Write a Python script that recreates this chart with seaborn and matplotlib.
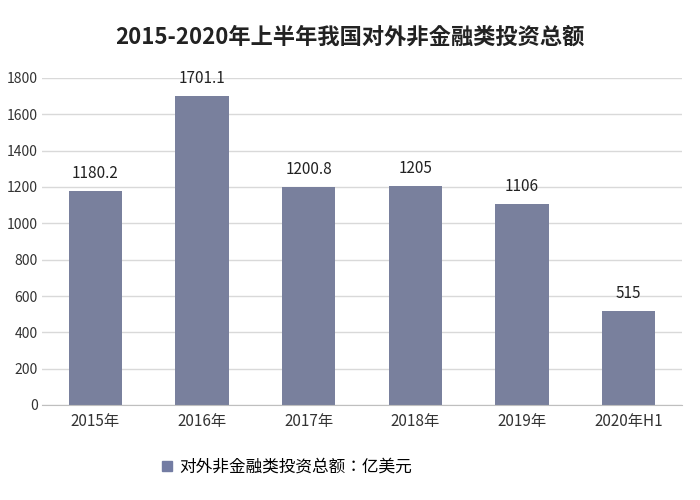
import matplotlib
matplotlib.use("Agg")
import matplotlib.pyplot as plt
from matplotlib import font_manager as fm
import seaborn as sns
import pandas as pd
from matplotlib.patches import Patch

categories = ["2015年", "2016年", "2017年", "2018年", "2019年", "2020年H1"]
values = [1180.2, 1701.1, 1200.8, 1205, 1106, 515]
labels = ["1180.2", "1701.1", "1200.8", "1205", "1106", "515"]
series = "对外非金融类投资总额：亿美元"

files = [f for f in fm.findSystemFonts() if "CJK" in f or "SC" in f.split("/")[-1]]
reg = None
bold = None
for f in sorted(files):
    base = f.split("/")[-1]
    if "Regular" in base and reg is None:
        reg = f
    if "Bold" in base and bold is None:
        bold = f
reg = reg or (files[0] if files else None)
bold = bold or reg
reg_prop = fm.FontProperties(fname=reg) if reg else fm.FontProperties(family="Noto Sans CJK SC")
bold_prop = fm.FontProperties(fname=bold) if bold else fm.FontProperties(family="Noto Sans CJK SC", weight="bold")
if reg:
    fm.fontManager.addfont(reg)
    plt.rcParams["font.family"] = [fm.FontProperties(fname=reg).get_name(), "DejaVu Sans"]

df = pd.DataFrame({"cat": categories, "val": values, "s": series})

fig = plt.figure(figsize=(7, 5), dpi=100)
ax = fig.add_axes([42/700, 95/500, 640/700, 327/500])
color = "#737ca3"
sns.barplot(data=df, x="cat", y="val", hue="s", palette=[color], width=0.5, ax=ax, legend=False)
ax.set_ylim(0, 1800)
ax.set_yticks(range(0, 1801, 200))
ax.set_xlim(-0.5, 5.5)
ax.grid(axis="y", color="#d9d9d9", linewidth=1)
ax.set_axisbelow(True)
for s in ["top", "right", "left"]:
    ax.spines[s].set_visible(False)
ax.spines["bottom"].set_color("#bfbfbf")
ax.tick_params(axis="y", length=0, colors="#333333", pad=3)
ax.tick_params(axis="x", length=0, colors="#333333", pad=6)
for t in ax.get_yticklabels():
    t.set_fontproperties(reg_prop); t.set_fontsize(10)
for t in ax.get_xticklabels():
    t.set_fontproperties(reg_prop); t.set_fontsize(11)
ax.set_xlabel("")
ax.set_ylabel("")
for i, (v, t) in enumerate(zip(values, labels)):
    ax.text(i, v + 50, t, ha="center", va="bottom", fontsize=11, color="#222222", fontproperties=reg_prop)
tp = bold_prop.copy(); tp.set_size(16)
fig.text(0.5, 0.925, "2015-2020年上半年我国对外非金融类投资总额", ha="center", va="center",
         fontproperties=tp, color="#222222")
lp = reg_prop.copy(); lp.set_size(12)
fig.legend(handles=[Patch(color=color, label=series)], loc="center", bbox_to_anchor=(0.41, 0.065),
           frameon=False, prop=lp, handlelength=0.6, handleheight=0.6, handletextpad=0.4)
fig.savefig("out.png", dpi=100)
